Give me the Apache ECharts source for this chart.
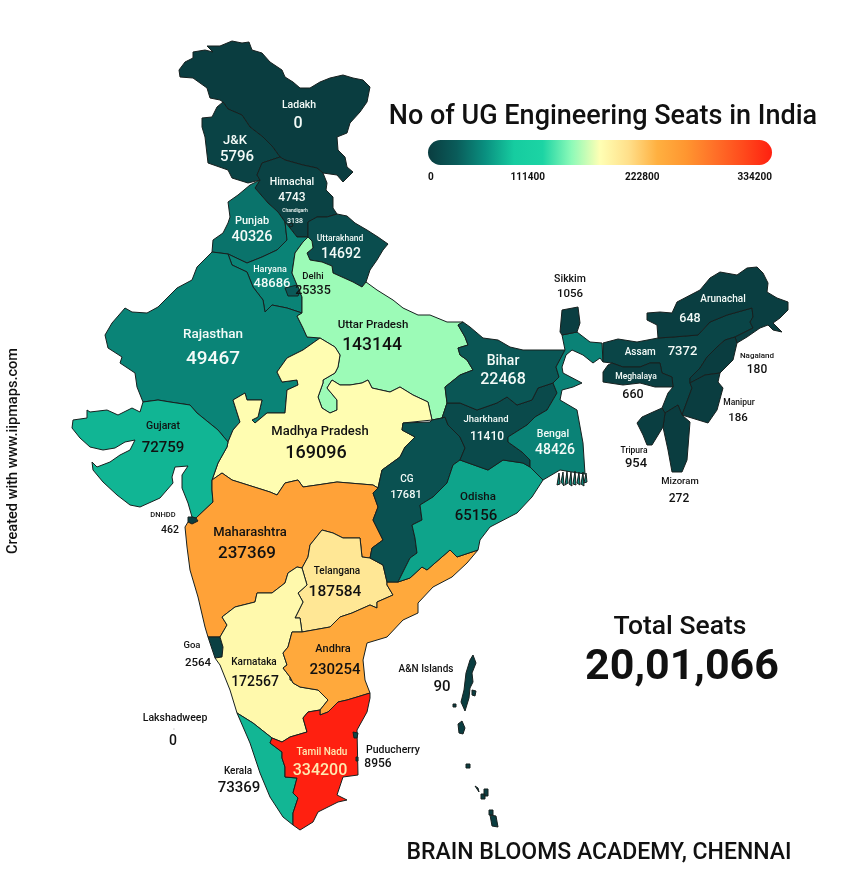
<!DOCTYPE html>
<html>
<head>
<meta charset="utf-8">
<title>No of UG Engineering Seats in India</title>
<script src="https://cdn.jsdelivr.net/npm/echarts@6/dist/echarts.min.js"></script>
<style>
  html, body { margin: 0; background: #fff; }
  #chart { width: 860px; height: 871px; }
</style>
</head>
<body>
<div id="chart"></div>
<script>
// data
const stateNames = ["Ladakh", "J&K", "Himachal", "Chandigarh", "Uttarakhand", "Punjab", "Haryana", "Rajasthan", "Uttar Pradesh", "Delhi",
  "Madhya Pradesh", "Gujarat", "DNHDD", "Maharashtra", "Goa", "Telangana", "Karnataka", "Andhra", "Kerala", "Tamil Nadu", "Puducherry",
  "CG", "Odisha", "Jharkhand", "Bihar", "Bengal", "Sikkim", "Assam", "Arunachal", "Meghalaya", "Nagaland", "Manipur", "Mizoram", "Tripura",
  "A&N Islands", "Lakshadweep"];
const seatValues = [0, 5796, 4743, 3138, 14692, 40326, 48686, 49467, 143144, 25335,
  169096, 72759, 462, 237369, 2564, 187584, 172567, 230254, 73369, 334200, 8956,
  17681, 65156, 11410, 22468, 48426, 1056, 7372, 648, 660, 180, 186, 272, 954,
  90, 0];
const legendTicks = [0, 111400, 222800, 334200];
const legendColors = ["#0a3d40", "#0a5c5a", "#0a9080", "#16cca0", "#1cd4a4", "#8cfab8", "#ffffb4",
  "#ffdf8a", "#ffb040", "#ff9630", "#ff7028", "#ff4a1c", "#ff2010"];

// outlines of the states, page pixels x,y
const outlines = {
  "Ladakh": ["179,70 185,62 193,58 193,52 205,50 213,52 207,46 220,46 232,41 242,43 249,42 252,50 262,53 270,62 282,70 285,77 293,82 300,88 310,88 320,82 330,78 343,75 353,78 363,80 370,87 367,102 360,112 350,123 347,133 337,137 338,150 345,157 347,167 353,172 343,182 337,175 323,173 317,168 303,165 285,160 280,157 272,146 263,137 250,127 242,115 228,109 223,102 220,100 210,98 207,88 193,78 180,77"],
  "J&K": ["223,102 217,107 212,117 202,118 202,127 205,137 208,163 228,170 232,178 248,183 260,180 257,175 262,163 280,157 272,146 263,137 250,127 242,115 228,109"],
  "Himachal": ["280,157 285,160 303,165 317,168 323,173 327,183 326,190 333,197 333,208 337,214 327,217 317,217 308,222 308,237 297,237 290,228 285,222 278,212 268,203 255,188 260,180 257,175 262,163"],
  "Chandigarh": ["289,224 292,223 293,226 290,227"],
  "Uttarakhand": ["337,214 347,216 355,223 367,230 378,237 388,244 383,250 377,260 370,270 366,282 362,287 353,282 333,273 332,266 322,262 310,260 307,253 313,248 312,241 308,237 308,222 317,217 327,217"],
  "Punjab": ["260,180 250,185 238,195 228,202 230,217 228,223 223,233 213,240 212,252 228,254 247,263 262,257 277,250 287,240 285,222 278,212 268,203 255,188"],
  "Haryana": ["228,254 232,265 247,272 253,287 263,300 265,312 272,305 287,308 302,313 302,297 297,285 292,273 295,253 303,242 308,237 297,237 290,228 285,222 287,240 277,250 262,257 247,263"],
  "Rajasthan": ["212,252 197,267 192,280 177,288 158,307 147,313 132,312 125,308 112,323 105,335 108,348 122,357 120,363 135,373 137,387 143,402 158,400 170,402 190,405 197,413 218,430 228,442 233,430 240,422 233,400 245,393 247,400 262,400 258,417 252,420 255,423 267,413 285,413 287,390 298,385 297,380 282,382 277,372 287,358 303,350 320,338 307,337 303,328 297,316 302,313 287,308 272,305 265,312 263,300 253,287 247,272 232,265 228,254"],
  "Uttar Pradesh": ["303,242 295,253 292,273 297,285 302,297 302,313 297,316 303,328 307,337 320,338 335,347 340,355 338,367 335,373 323,380 323,383 318,397 322,408 330,413 337,410 337,400 327,388 332,380 340,385 350,385 362,383 368,380 372,388 390,392 400,387 413,395 428,402 432,420 442,418 447,403 445,387 460,375 473,370 467,360 460,355 458,348 468,345 465,337 458,325 463,322 447,322 430,315 418,315 403,308 393,300 377,290 366,282 362,287 353,282 333,273 332,266 322,262 310,260 307,253 313,248 312,241 308,237"],
  "Delhi": ["285,288 297,285 300,291 298,296 288,296"],
  "Madhya Pradesh": ["228,442 233,430 240,422 233,400 245,393 247,400 262,400 258,417 252,420 255,423 267,413 285,413 287,390 298,385 297,380 282,382 277,372 287,358 303,350 320,338 335,347 340,355 338,367 335,373 323,380 323,383 318,397 322,408 330,413 337,410 337,400 327,388 332,380 340,385 350,385 362,383 368,380 372,388 390,392 400,387 413,395 428,402 432,420 403,423 402,430 415,437 405,447 400,457 382,470 378,488 373,485 337,482 317,485 303,487 298,480 285,483 277,495 270,492 232,480 222,473 212,480 218,463 227,447"],
  "Gujarat": ["143,402 158,400 170,402 190,405 197,413 218,430 228,442 227,447 218,463 212,480 212,490 213,502 196,518 192,517 188,503 182,488 182,475 188,466 175,467 172,477 173,483 160,498 140,507 130,505 117,495 103,482 93,470 92,462 97,467 110,462 120,455 130,450 135,440 125,442 115,448 103,450 90,447 80,438 72,428 73,420 87,418 87,410 90,412 107,410 118,415 132,408 140,412"],
  "DNHDD": ["192,517 196,518 198,521 192,524 188,522 188,517"],
  "Maharashtra": ["212,480 222,473 232,480 270,492 277,495 285,483 298,480 303,487 317,485 337,482 373,485 378,488 373,493 378,507 373,520 383,540 372,548 370,558 362,557 360,538 343,538 333,533 322,530 310,545 308,557 302,568 297,567 288,573 285,583 272,593 257,593 255,602 235,607 222,617 227,625 220,637 208,637 205,627 198,597 190,570 187,547 185,527 188,522 192,524 198,521 196,518 213,502 212,490"],
  "Goa": ["208,637 220,637 223,647 222,657 215,658"],
  "Telangana": ["322,530 333,533 343,538 360,538 362,557 370,558 383,565 387,582 387,585 393,595 377,602 377,608 370,605 352,613 340,617 330,627 302,632 300,618 295,618 303,602 298,593 307,585 302,568 308,557 310,545"],
  "Karnataka": ["220,637 227,625 222,617 235,607 255,602 257,593 272,593 285,583 288,573 297,567 302,568 307,585 298,593 303,602 295,618 300,618 302,632 292,632 288,647 283,653 287,665 283,668 290,677 293,683 300,687 318,690 328,700 320,710 308,712 303,718 307,732 290,737 282,742 272,738 253,723 237,713 230,690 220,665 215,658 222,657 223,647",
    "290,673 297,672 301,677 296,682 290,680"],
  "Andhra": ["302,632 330,627 340,617 352,613 370,605 377,608 377,602 393,595 387,585 387,582 398,582 410,578 422,567 427,570 450,550 457,557 478,550 467,563 452,577 433,587 418,603 418,613 403,620 387,637 367,643 363,660 365,680 370,693 357,697 347,700 338,702 328,712 320,715 320,710 328,700 318,690 300,687 293,683 290,677 283,668 287,665 283,653 288,647 292,632"],
  "Kerala": ["237,713 253,723 272,738 270,743 282,752 282,758 285,767 285,777 297,778 293,793 298,798 293,813 293,825 283,817 270,797 260,773 250,743"],
  "Tamil Nadu": ["307,732 303,718 308,712 320,710 320,715 328,712 338,702 347,700 357,697 370,693 370,698 367,712 357,730 358,775 343,777 337,795 347,800 338,802 318,812 313,822 300,830 293,825 293,813 298,798 293,793 297,778 285,777 285,767 282,758 282,752 270,743 272,738 282,742 290,737"],
  "Puducherry": ["353,732 358,733 357,738 354,738", "356,757 358,757 358,761 356,761"],
  "CG": ["403,423 430,422 432,420 442,418 445,417 448,425 460,437 465,448 460,460 453,465 447,483 433,497 420,505 422,520 412,525 415,538 417,553 410,558 398,582 387,582 383,565 370,558 372,548 383,540 373,520 378,507 373,493 378,488 382,470 400,457 405,447 415,437 402,430"],
  "Odisha": ["460,460 488,470 503,460 523,463 530,467 543,480 532,497 517,513 490,527 480,540 478,550 457,557 450,550 427,570 422,567 410,578 398,582 410,558 417,553 415,538 412,525 422,520 420,505 433,497 447,483 453,465"],
  "Jharkhand": ["447,403 460,403 477,410 497,403 507,397 517,405 532,400 538,388 553,383 557,393 547,410 535,417 527,425 508,437 508,442 522,452 530,460 530,467 523,463 503,460 488,470 460,460 465,448 460,437 448,425 445,417 442,418"],
  "Bihar": ["447,403 445,387 460,375 473,370 467,360 460,355 458,348 468,345 465,337 458,325 463,322 470,327 483,338 498,340 510,347 523,350 550,350 565,350 556,367 559,377 553,383 538,388 532,400 517,405 507,397 497,403 477,410 460,403"],
  "Bengal": ["530,467 530,460 522,452 508,442 508,437 527,425 535,417 547,410 557,393 553,383 559,377 556,367 565,350 562,335 572,333 577,332 590,342 602,343 603,362 600,358 593,363 583,355 572,350 566,355 562,367 563,373 582,383 573,387 562,390 560,400 577,410 583,443 585,474 572,472 560,470 543,480",
    "557,485 559,473 560,484", "561,482 563,472 564,486", "565,485 567,471 568,483", "569,484 571,472 572,486", "573,484 575,471 576,485", "577,483 579,472 580,485", "581,484 583,472 584,486", "584,483 586,473 587,482"],
  "Sikkim": ["562,335 560,332 562,310 578,307 580,323 577,332 572,333"],
  "Assam": ["603,343 618,339 637,342 658,338 673,337 698,335 710,322 727,315 752,308 753,317 750,322 753,328 735,337 725,340 717,347 707,357 700,368 690,378 690,383 692,388 682,415 678,405 665,413 662,408 668,393 673,387 672,377 662,373 660,363 650,363 640,367 623,367 612,363 603,362"],
  "Arunachal": ["647,313 660,312 672,313 677,302 700,290 710,278 720,272 737,275 747,268 757,267 763,273 768,283 767,292 777,298 788,302 788,310 780,318 773,323 782,332 773,330 768,325 760,328 747,337 737,343 735,337 753,328 750,322 753,317 752,308 727,315 710,322 698,335 673,337 658,338 657,325 647,320"],
  "Meghalaya": ["612,363 608,365 603,372 603,382 623,385 640,383 655,387 673,387 672,377 662,373 660,363 650,363 640,367 623,367"],
  "Nagaland": ["735,337 737,343 733,360 720,373 705,375 690,383 690,378 700,368 707,357 717,347 725,340"],
  "Manipur": ["705,375 720,373 718,382 723,388 717,410 708,423 682,415 692,388 690,383"],
  "Mizoram": ["665,413 678,405 682,415 690,422 687,460 682,472 672,472 668,450 663,427"],
  "Tripura": ["662,408 665,413 663,427 652,445 647,445 643,435 637,423 642,417 653,412"],
  "A&N Islands": ["470,660 473,655 476,663 472,673 473,682 470,688 469,698 465,711 461,702 464,690 466,673",
    "458,724 462,721 465,728 463,734 459,733", "472,690 476,691 475,696 472,695", "453,704 456,704 456,707 453,707", "466,764 470,764 470,768 466,768",
    "475,786 478,788 479,792", "481,794 485,794 485,799 481,799", "484,789 488,789 488,796 484,796", "489,810 493,810 493,815 489,815", "490,815 496,816 498,827 492,826"],
  "Lakshadweep": ["173.9,729 174.1,729 174,729.1"]
};

// text of each state: name x,y,size,colour then value x,y,size,colour
const DK = "#111";
const WH = "#f4fbf8";
const labelSpots = {
  "Ladakh": [299, 105, 10.5, WH, 298, 124, 16, WH],
  "J&K": [235, 141, 13, WH, 237, 157, 15, WH],
  "Himachal": [292, 182, 10.5, WH, 292, 198, 12, WH],
  "Chandigarh": [295, 211, 5, WH, 295, 221, 7, WH],
  "Uttarakhand": [340, 239, 8.5, WH, 341, 254, 14, WH],
  "Punjab": [252, 221, 11, WH, 252, 237, 14.5, WH],
  "Haryana": [270, 270, 9, WH, 272, 284, 13, WH],
  "Rajasthan": [213, 335, 13.5, WH, 213, 359, 19, WH],
  "Uttar Pradesh": [373, 325, 11.5, DK, 372, 346, 17.5, DK],
  "Delhi": [313, 277, 9.5, DK, 313, 291, 12.5, DK],
  "Madhya Pradesh": [320, 432, 13, DK, 316, 453, 18, DK],
  "Gujarat": [163, 426, 10.5, DK, 163, 448, 15, DK],
  "DNHDD": [163, 515, 7.5, DK, 170, 530, 10.5, DK],
  "Maharashtra": [250, 533, 13, DK, 247, 554, 17, DK],
  "Goa": [192, 646, 9.5, DK, 198, 663, 11.5, DK],
  "Telangana": [337, 571, 10, DK, 335, 592, 15.5, DK],
  "Karnataka": [254, 662, 10, DK, 255, 682, 14, DK],
  "Andhra": [333, 649, 11, DK, 335, 670, 15, DK],
  "Kerala": [238, 771, 10, DK, 239, 788, 15, DK],
  "Tamil Nadu": [322, 752, 10, "#ffe9b0", 320, 771, 16, "#ffe9b0"],
  "Puducherry": [393, 750, 10.5, DK, 378, 764, 12, DK],
  "CG": [407, 479, 10, WH, 406, 495, 11, WH],
  "Odisha": [478, 497, 11.5, DK, 476, 516, 15, DK],
  "Jharkhand": [486, 420, 9.5, WH, 487, 437, 12, WH],
  "Bihar": [503, 361, 14, WH, 503, 380, 16, WH],
  "Bengal": [553, 434, 10.5, WH, 555, 450, 14, WH],
  "Sikkim": [570, 279, 10.5, DK, 570, 294, 11.5, DK],
  "Assam": [640, 352, 10, WH, 682, 352, 13, WH],
  "Arunachal": [723, 299, 10, WH, 690, 319, 12.5, WH],
  "Meghalaya": [636, 377, 8.5, WH, 633, 395, 12.5, DK],
  "Nagaland": [757, 356, 8, DK, 757, 370, 12, DK],
  "Manipur": [739, 403, 8.5, DK, 738, 418, 11.5, DK],
  "Mizoram": [680, 482, 9.5, DK, 679, 499, 12, DK],
  "Tripura": [634, 451, 8.5, DK, 636, 464, 13, DK],
  "A&N Islands": [426, 669, 10, DK, 442, 687, 15, DK],
  "Lakshadweep": [175, 718, 10.5, DK, 173, 741, 14, DK]
};

const parseRing = (text) =>
  text.split(" ").map((pair) => {
    const [x, y] = pair.split(",").map(Number);
    return [x, -y];
  });

// the spot between both text lines is where echarts puts the label
const labelCenter = (spot) => [(spot[0] + spot[4]) / 2, -(spot[1] + spot[5]) / 2];

const indiaGeo = {
  type: "FeatureCollection",
  features: stateNames.map((name) => ({
    type: "Feature",
    properties: { name: name, cp: labelCenter(labelSpots[name]) },
    geometry: {
      type: "MultiPolygon",
      coordinates: outlines[name].map((ring) => [parseRing(ring)]),
    },
  })),
};
echarts.registerMap("india", indiaGeo);

const stateLabel = (name, value) => {
  const [nx, ny, nSize, nColor, vx, vy, vSize, vColor] = labelSpots[name];
  const gap = vy - ny;
  const dx = nx - vx;
  const label = { show: true };
  if (gap === 0) {
    // same row, Assam only
    label.formatter = `{n|${name}}{v|${value}}`;
    label.rich = {
      n: { fontSize: nSize, color: nColor, fontWeight: 500, padding: [0, 12, 0, 0] },
      v: { fontSize: vSize, color: vColor, fontWeight: 500 },
    };
    return label;
  }
  label.formatter = `{n|${name}}\n{v|${value}}`;
  label.rich = {
    n: {
      fontSize: nSize, color: nColor, lineHeight: gap, fontWeight: 500,
      padding: dx > 0 ? [0, 0, 0, dx] : [0, -dx, 0, 0],
    },
    v: {
      fontSize: vSize, color: vColor, lineHeight: gap, fontWeight: 500,
      padding: dx > 0 ? [0, dx, 0, 0] : [0, 0, 0, -dx],
    },
  };
  return label;
};

const barGradient = new echarts.graphic.LinearGradient(0, 0, 1, 0,
  legendColors.map((color, i) => ({ offset: i / (legendColors.length - 1), color: color })));

const chart = echarts.init(document.getElementById("chart"));
chart.setOption({
  animation: false,
  backgroundColor: "#fff",
  textStyle: { fontFamily: "Roboto" },
  title: [
    { text: "No of UG Engineering Seats in India", left: 598, top: 99, textAlign: "center",
      textStyle: { fontSize: 27, fontWeight: 500, color: "#111" } },
    { text: "Total Seats", left: 675, top: 609, textAlign: "center",
      textStyle: { fontSize: 26.5, fontWeight: 500, color: "#111" } },
    { text: "20,01,066", left: 677, top: 642, textAlign: "center",
      textStyle: { fontSize: 43, fontWeight: 700, color: "#111" } },
    { text: "BRAIN BLOOMS ACADEMY, CHENNAI", left: 594, top: 837, textAlign: "center",
      textStyle: { fontSize: 23, fontWeight: 500, color: "#111" } },
  ],
  graphic: [
    { type: "text", x: 13, y: 451, rotation: Math.PI / 2, silent: true,
      style: { text: "Created with www.iipmaps.com", font: "500 14.6px Roboto", fill: "#111", align: "center", verticalAlign: "middle" } },
  ],
  visualMap: {
    show: false,
    seriesIndex: 0,
    min: legendTicks[0],
    max: legendTicks[3],
    inRange: { color: legendColors },
  },
  grid: { left: 428, top: 140, width: 344, height: 25 },
  xAxis: {
    type: "value",
    min: legendTicks[0],
    max: legendTicks[3],
    interval: legendTicks[1],
    axisLine: { show: false },
    axisTick: { show: false },
    splitLine: { show: false },
    axisLabel: {
      margin: 7,
      fontSize: 10,
      fontWeight: 700,
      color: "#111",
      alignMinLabel: "left",
      alignMaxLabel: "right",
      // the two middle labels sit a bit left of their ticks in the picture
      formatter: (value) => (value === legendTicks[1] || value === legendTicks[2] ? `{mid|${value}}` : `${value}`),
      rich: { mid: { fontSize: 10, fontWeight: 700, color: "#111", padding: [0, 30, 0, 0] } },
    },
  },
  yAxis: { type: "category", data: ["seats"], show: false },
  series: [
    {
      type: "map",
      map: "india",
      aspectScale: 1,
      roam: false,
      silent: true,
      left: 0,
      top: 0,
      width: 860,
      height: 871,
      boundingCoords: [[0, 0], [860, -871]],
      itemStyle: { borderColor: "#17201f", borderWidth: 1 },
      emphasis: { disabled: true },
      select: { disabled: true },
      data: stateNames.map((name, i) => ({
        name: name,
        value: seatValues[i],
        label: stateLabel(name, seatValues[i]),
      })),
    },
    {
      type: "bar",
      silent: true,
      barWidth: 25,
      data: [legendTicks[3]],
      itemStyle: { color: barGradient, borderRadius: 12.5 },
    },
  ],
});
</script>
</body>
</html>
